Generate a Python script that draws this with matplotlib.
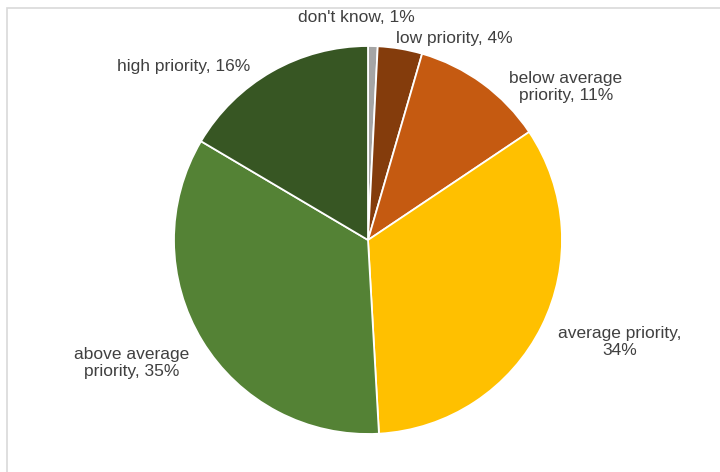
import matplotlib
matplotlib.use("Agg")
import matplotlib.pyplot as plt
from matplotlib.patches import Rectangle

categories = ["don't know", "low priority", "below average priority",
              "average priority", "above average priority", "high priority"]
values = [0.8, 3.7, 11.1, 33.5, 34.4, 16.5]
labels = ["don't know, 1%", "low priority, 4%", "below average\npriority, 11%",
          "average priority,\n34%", "above average\npriority, 35%", "high priority, 16%"]
colors = ["#A5A5A5", "#843C0C", "#C55A11", "#FFC000", "#548235", "#375623"]

# label positions in pixel coordinates (x, y from top)
label_pos = [(356, 18), (454, 38), (566, 87), (620, 342), (132, 363), (184, 67)]

W, H = 720, 472
fig = plt.figure(figsize=(7.2, 4.72), dpi=100)
ax = fig.add_axes([0, 0, 1, 1])
ax.pie(values, colors=colors, startangle=90, counterclock=False,
       center=(368, H - 240), radius=194,
       wedgeprops=dict(edgecolor="white", linewidth=1.3))
ax.set_xlim(0, W)
ax.set_ylim(0, H)
ax.set_aspect("equal")
ax.axis("off")

# chart border
ax.add_patch(Rectangle((7, -5), W + 10, H - 8 + 5, fill=False,
                       edgecolor="#D9D9D9", linewidth=1.2))

for lab, (px, py) in zip(labels, label_pos):
    ax.text(px, H - py, lab, ha="center", va="center", fontsize=12.5,
            family="Liberation Sans", color="#404040", linespacing=1.12)

fig.savefig("out.png", dpi=100)
